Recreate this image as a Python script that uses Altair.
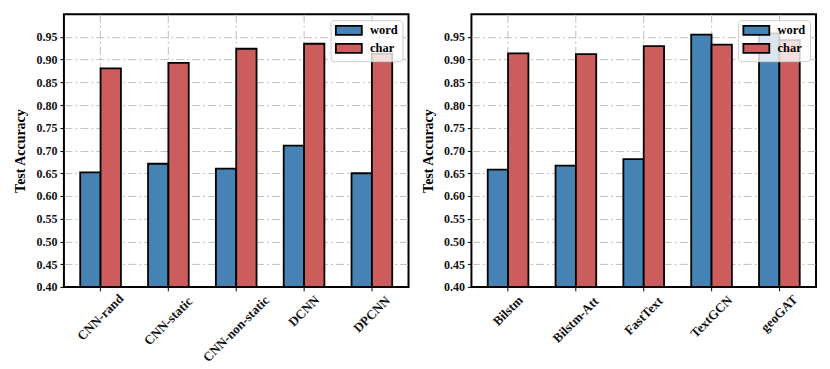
import altair as alt
import pandas as pd
import math

# ---- data ----
left_categories = ["CNN-rand", "CNN-static", "CNN-non-static", "DCNN", "DPCNN"]
left_word = [0.652, 0.671, 0.660, 0.711, 0.650]
left_char = [0.881, 0.893, 0.924, 0.935, 0.913]

right_categories = ["Bilstm", "Bilstm-Att", "FastText", "TextGCN", "geoGAT"]
right_word = [0.658, 0.667, 0.681, 0.955, 0.958]
right_char = [0.914, 0.912, 0.930, 0.933, 0.943]

series_names = ["word", "char"]
series_colors = ["#4682b4", "#cd5c5c"]
y_ticks = [0.40, 0.45, 0.50, 0.55, 0.60, 0.65, 0.70, 0.75, 0.80, 0.85, 0.90, 0.95]
y_domain = [0.40, 1.00]

FONT = "Liberation Serif"
ANGLE = 45
XFS = 13
S, C = math.sin(math.radians(ANGLE)), math.cos(math.radians(ANGLE))

# label width estimate -> padding so the rotated label's bounding box top sits just under the axis
upper = "(length(datum.label) - length(replace(datum.label, regexp('[A-Z]', 'g'), '')))"
width_est = f"({XFS} * (0.42 * length(datum.label) + 0.30 * {upper}))"
pad_expr = f"2 + {S / 2:.4f} * {width_est} + {XFS * C / 2:.3f}"

# wide, flat rectangle used as legend symbol (offset so it starts at the entry's left edge)
rect_path = "M-1,-0.9L4.2,-0.9L4.2,0.9L-1,0.9Z"


def panel(cats, word, char):
    df = pd.DataFrame({
        "model": cats + cats,
        "series": ["word"] * len(cats) + ["char"] * len(cats),
        "acc": word + char,
    })
    return alt.Chart(df).mark_bar(stroke="black", strokeWidth=1.8).encode(
        x=alt.X(
            "model:N", sort=cats, title=None,
            scale=alt.Scale(paddingInner=0.4, paddingOuter=0.24),
            axis=alt.Axis(
                labelAngle=360 - ANGLE, labelAlign="center", labelBaseline="middle",
                labelFontSize=XFS,
                labelPadding={"expr": pad_expr}, grid=True, bandPosition=0.5,
            ),
        ),
        xOffset=alt.XOffset("series:N", sort=series_names,
                            scale=alt.Scale(paddingInner=0, paddingOuter=0)),
        y=alt.Y(
            "acc:Q",
            scale=alt.Scale(domain=y_domain, nice=False, zero=False),
            axis=alt.Axis(
                values=y_ticks, format=".2f", title="Test Accuracy", titlePadding=8,
                gridOpacity=alt.condition("datum.value <= 0.401", alt.value(0), alt.value(1)),
            ),
        ),
        y2=alt.datum(0.4),
        color=alt.Color(
            "series:N", sort=series_names,
            scale=alt.Scale(domain=series_names, range=series_colors),
            legend=alt.Legend(
                title=None, orient="top-right", offset=6,
                symbolType=rect_path, symbolSize=100,
                symbolStrokeColor="black", symbolStrokeWidth=1.8,
                labelFont=FONT, labelFontWeight="bold", labelFontSize=12.5, labelColor="black",
                labelOffset=23, padding=4, rowPadding=1,
                fillColor="rgba(255,255,255,0.8)", strokeColor="#cccccc", cornerRadius=3,
            ),
        ),
    ).properties(width=345, height=273)


chart = alt.hconcat(
    panel(left_categories, left_word, left_char),
    panel(right_categories, right_word, right_char),
    spacing=11,
).resolve_scale(color="independent").configure_view(
    stroke="black", strokeWidth=2
).configure_axis(
    domain=False,
    labelFont=FONT, labelFontWeight="bold", labelFontSize=12, labelColor="#111111",
    titleFont=FONT, titleFontWeight="bold", titleFontSize=14, titleColor="black",
    tickColor="black", tickSize=4, tickWidth=1,
    gridColor="#c0c0c0", gridDash=[8, 3, 2, 3], gridWidth=1,
    labelPadding=3,
)

chart.save("out.html", embed_options={"renderer": "svg", "actions": False})
